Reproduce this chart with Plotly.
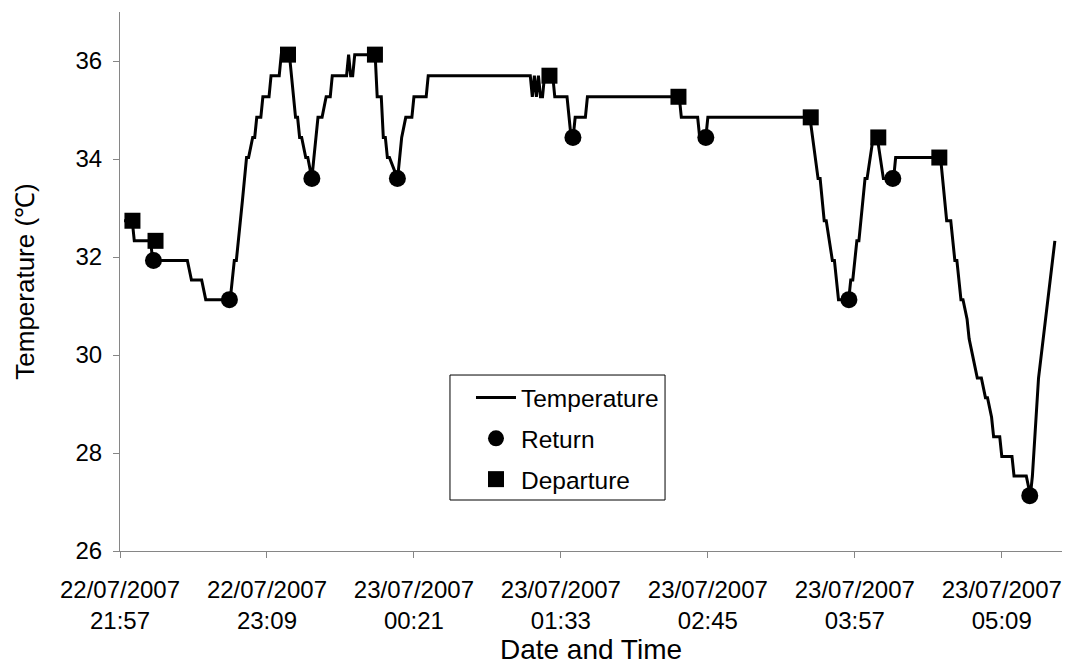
import pandas as pd
import plotly.graph_objects as go

START = pd.Timestamp("2007-07-22 21:57")

# Temperature trace vertices: minutes after 22/07/2007 21:57, value in degC
temp_minutes = [2, 6, 7, 15, 16, 33, 35, 40, 42, 54, 56, 57, 60, 62, 63, 65, 66, 67, 69, 70,
                73, 74, 78, 79, 83, 86, 87, 88, 89, 91, 92, 94, 95, 96, 97, 99, 101, 103, 104, 111,
                112, 113, 114, 115, 125, 126, 128, 129, 130, 131, 132, 136, 137, 138, 140, 143, 144, 150, 151, 201,
                202, 203, 204, 205, 206, 207, 208, 212, 213, 219, 221, 222, 223, 228, 229, 274, 275, 283, 284, 287,
                288, 338, 342, 343, 345, 346, 349, 350, 352, 357, 358, 359, 361, 362, 365, 366, 369, 371, 374, 379,
                380, 402, 405, 407, 409, 410, 412, 413, 415, 416, 418, 420, 422, 424, 425, 427, 428, 431, 432, 437,
                438, 444, 446, 447, 450, 458]
temp_values = [32.74, 32.74, 32.33, 32.33, 31.93, 31.93, 31.53, 31.53, 31.13, 31.13, 31.93, 31.93, 33.16, 34.03, 34.03, 34.44, 34.44, 34.85, 34.85, 35.27,
               35.27, 35.70, 35.70, 36.13, 36.13, 34.85, 34.85, 34.44, 34.44, 34.03, 34.03, 33.60, 34.03, 34.44, 34.85, 34.85, 35.27, 35.27, 35.70, 35.70,
               36.13, 35.70, 35.70, 36.13, 36.13, 35.27, 35.27, 34.44, 34.44, 34.03, 34.03, 33.60, 34.03, 34.44, 34.85, 34.85, 35.27, 35.27, 35.70, 35.70,
               35.27, 35.70, 35.27, 35.70, 35.27, 35.27, 35.70, 35.70, 35.27, 35.27, 34.44, 34.44, 34.85, 34.85, 35.27, 35.27, 34.85, 34.85, 34.44, 34.44,
               34.85, 34.85, 33.60, 33.60, 32.74, 32.74, 31.93, 31.93, 31.13, 31.13, 31.53, 31.53, 32.33, 32.33, 33.60, 33.60, 34.44, 34.44, 33.60, 33.60,
               34.03, 34.03, 32.74, 32.74, 31.93, 31.93, 31.13, 31.13, 30.73, 30.33, 29.93, 29.53, 29.53, 29.13, 29.13, 28.73, 28.33, 28.33, 27.93, 27.93,
               27.53, 27.53, 27.13, 27.53, 29.53, 32.33]

return_minutes = [16.4, 53.6, 94, 135.9, 221.9, 287, 357.1, 378.6, 445.7]
return_values = [31.93, 31.13, 33.60, 33.60, 34.44, 34.44, 31.13, 33.60, 27.13]

departure_minutes = [6.1, 17.4, 82.3, 124.9, 210.4, 273.6, 338.4, 371.5, 401.4]
departure_values = [32.74, 32.33, 36.13, 36.13, 35.70, 35.27, 34.85, 34.44, 34.03]

tick_minutes = [0, 72, 144, 216, 288, 360, 432]
tick_labels = ["22/07/2007<br>21:57", "22/07/2007<br>23:09", "23/07/2007<br>00:21",
               "23/07/2007<br>01:33", "23/07/2007<br>02:45", "23/07/2007<br>03:57",
               "23/07/2007<br>05:09"]


def to_time(mins):
    return [START + pd.Timedelta(minutes=m) for m in mins]


FONT = "Liberation Sans, Arial, sans-serif"

fig = go.Figure()
fig.add_trace(go.Scatter(x=to_time(temp_minutes), y=temp_values, mode="lines",
                         name="Temperature", legendgroup="a",
                         line=dict(color="black", width=3)))
fig.add_trace(go.Scatter(x=to_time(return_minutes), y=return_values, mode="markers",
                         name="Return", legendgroup="b",
                         marker=dict(symbol="circle", size=17, color="black")))
fig.add_trace(go.Scatter(x=to_time(departure_minutes), y=departure_values, mode="markers",
                         name="Departure", legendgroup="c",
                         marker=dict(symbol="square", size=16, color="black")))

# legend frame (drawn as a shape so the legend entries can sit further inside it)
fig.add_shape(type="rect", xref="paper", yref="paper",
              x0=0.3503, x1=0.5786, y0=0.0946, y1=0.3265,
              line=dict(color="black", width=1), fillcolor="white", layer="below")

fig.update_layout(
    width=1066, height=670,
    margin=dict(l=120, r=4, t=12, b=119),
    paper_bgcolor="white", plot_bgcolor="white",
    font=dict(family=FONT, size=22, color="black"),
    showlegend=True,
    legend=dict(x=0.3726, y=0.3265, xanchor="left", yanchor="top",
                borderwidth=0, bgcolor="rgba(0,0,0,0)",
                font=dict(family=FONT, size=24.5, color="black"),
                traceorder="grouped", tracegroupgap=6,
                itemwidth=40),
)
fig.update_xaxes(
    range=[START, START + pd.Timedelta(minutes=461.5)],
    tickvals=to_time(tick_minutes), ticktext=tick_labels,
    ticks="outside", ticklen=6, tickcolor="#868686",
    showline=True, linecolor="#868686", linewidth=1,
    showgrid=False, zeroline=False,
    ticklabelstandoff=11,
    tickfont=dict(family=FONT, size=24, color="black"),
    title=dict(text="Date and Time", font=dict(family=FONT, size=28, color="black"), standoff=2),
)
fig.update_yaxes(
    range=[26, 37], tickvals=[26, 28, 30, 32, 34, 36],
    ticks="outside", ticklen=6, tickcolor="#868686",
    showline=True, linecolor="#868686", linewidth=1,
    showgrid=False, zeroline=False,
    ticklabelstandoff=6,
    tickfont=dict(family=FONT, size=24, color="black"),
    title=dict(text="Temperature (℃)", font=dict(family=FONT, size=26, color="black"), standoff=33),
)

fig.write_html("out.html")
